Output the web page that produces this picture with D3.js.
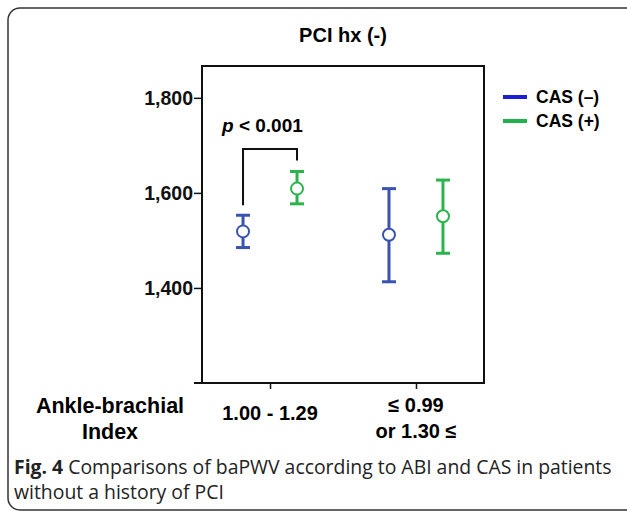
<!DOCTYPE html>
<html>
<head>
<meta charset="utf-8">
<script src="https://cdn.jsdelivr.net/npm/d3@7"></script>
<style>
  body { margin: 0; background: #fff; }
  text { font-family: "Liberation Sans", Arial, sans-serif; }
  text.caption { font-family: "Open Sans", "Noto Sans", sans-serif; }
</style>
</head>
<body>
<svg id="chart"></svg>
<script>
const width = 627;
const height = 511;

// data
const groups = ['1.00 - 1.29', '≤ 0.99|or 1.30 ≤'];
const series = ['CAS (–)', 'CAS (+)'];
const means = [[1519, 1609], [1512, 1551]];
const lower = [[1485, 1577], [1413, 1473]];
const upper = [[1553, 1645], [1609, 1627]];
const yTicks = [1400, 1600, 1800];
const colors = ['#3a52b0', '#2db34c'];
const legendColors = ['#1c1fd6', '#22b24c'];

const box = {left: 202, right: 484, top: 66, bottom: 383};

const svg = d3.select('#chart')
    .attr('width', width)
    .attr('height', height);

// outer frame
svg.append('rect')
    .attr('x', 8).attr('y', 8)
    .attr('width', 640).attr('height', 502)
    .attr('rx', 12)
    .attr('fill', 'none')
    .attr('stroke', '#333')
    .attr('stroke-width', 1.5);

const x = d3.scalePoint().domain(groups).range([box.left, box.right]).padding(0.466);
const xs = d3.scalePoint().domain(series).range([-27, 27]);
const y = d3.scaleLinear().domain([1200, 1867]).range([box.bottom, box.top]);

svg.append('text')
    .attr('x', (box.left + box.right) / 2).attr('y', 42)
    .attr('text-anchor', 'middle')
    .attr('font-size', 20).attr('font-weight', 'bold')
    .text('PCI hx (-)');

// plot frame
svg.append('rect')
    .attr('x', box.left).attr('y', box.top)
    .attr('width', box.right - box.left).attr('height', box.bottom - box.top)
    .attr('fill', 'none').attr('stroke', '#111').attr('stroke-width', 2);

const yAxis = svg.append('g')
    .attr('transform', `translate(${box.left},0)`)
    .call(d3.axisLeft(y).tickValues(yTicks).tickSize(8).tickPadding(1).tickFormat(d3.format(',')));
yAxis.select('.domain').remove();
yAxis.selectAll('line').attr('stroke', '#111').attr('stroke-width', 1.5);
yAxis.selectAll('text')
    .attr('font-size', 19.5).attr('font-weight', 'bold').attr('fill', '#111');

const xAxis = svg.append('g')
    .attr('transform', `translate(0,${box.bottom})`)
    .call(d3.axisBottom(x).tickSize(6).tickFormat(''));
xAxis.select('.domain').attr('d', `M${box.left - 8},0H${box.right}`).attr('stroke', '#111').attr('stroke-width', 2);
xAxis.selectAll('line').attr('stroke', '#111').attr('stroke-width', 1.5);

// category labels
groups.forEach(g => {
    const lines = g.split('|');
    const t = svg.append('text')
        .attr('text-anchor', 'middle')
        .attr('font-size', 20).attr('font-weight', 'bold');
    const y0 = lines.length === 1 ? 420 : 412;
    lines.forEach((l, i) => {
        t.append('tspan').attr('x', x(g)).attr('y', y0 + i * 26).text(l);
    });
});

const axTitle = svg.append('text')
    .attr('text-anchor', 'middle')
    .attr('font-size', 21.5).attr('font-weight', 'bold');
axTitle.append('tspan').attr('x', 110).attr('y', 413).text('Ankle-brachial');
axTitle.append('tspan').attr('x', 110).attr('y', 439).text('Index');

// error bars
groups.forEach((g, gi) => {
    series.forEach((s, si) => {
        const cx = x(g) + xs(s);
        const el = svg.append('g').attr('stroke', colors[si]).attr('fill', 'none').attr('stroke-width', 3);
        el.append('line').attr('x1', cx).attr('x2', cx)
            .attr('y1', y(upper[gi][si])).attr('y2', y(means[gi][si]) - 6);
        el.append('line').attr('x1', cx).attr('x2', cx)
            .attr('y1', y(means[gi][si]) + 6).attr('y2', y(lower[gi][si]));
        [upper[gi][si], lower[gi][si]].forEach(v => {
            el.append('line').attr('x1', cx - 7).attr('x2', cx + 7)
                .attr('y1', y(v)).attr('y2', y(v));
        });
        el.append('circle').attr('cx', cx).attr('cy', y(means[gi][si])).attr('r', 6)
            .attr('stroke-width', 2);
    });
});

// significance bracket
const bx1 = x(groups[0]) + xs(series[0]);
const bx2 = x(groups[0]) + xs(series[1]);
const bTop = 149;
svg.append('path')
    .attr('d', `M${bx1},${y(upper[0][0]) - 10}V${bTop}H${bx2}V${y(upper[0][1]) - 11}`)
    .attr('fill', 'none').attr('stroke', '#111').attr('stroke-width', 2);

const pText = svg.append('text')
    .attr('x', 222).attr('y', 132)
    .attr('font-size', 19).attr('font-weight', 'bold');
pText.append('tspan').attr('font-style', 'italic').text('p');
pText.append('tspan').text(' < 0.001');

// legend
const legend = svg.append('g').attr('transform', 'translate(503,97)');
series.forEach((s, i) => {
    legend.append('line')
        .attr('x1', 0).attr('x2', 24)
        .attr('y1', i * 24).attr('y2', i * 24)
        .attr('stroke', legendColors[i]).attr('stroke-width', 4);
    legend.append('text')
        .attr('x', 33).attr('y', i * 24 + 6)
        .attr('font-size', 17.5).attr('font-weight', 'bold')
        .text(s);
});

// caption
const c1 = svg.append('text').attr('class', 'caption')
    .attr('x', 14).attr('y', 474).attr('font-size', 19.4).attr('fill', '#222');
c1.append('tspan').attr('font-weight', 'bold').text('Fig. 4');
c1.append('tspan').text(' Comparisons of baPWV according to ABI and CAS in patients');
svg.append('text').attr('class', 'caption')
    .attr('x', 14).attr('y', 499).attr('font-size', 19.4).attr('fill', '#222')
    .text('without a history of PCI');
</script>
</body>
</html>
